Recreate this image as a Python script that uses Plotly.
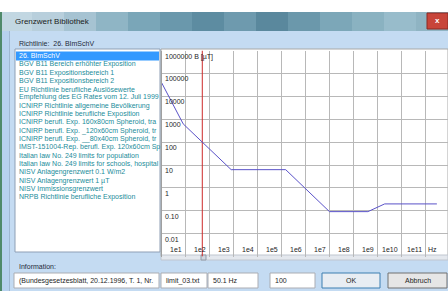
import plotly.graph_objects as go
import math

# ---------------- data ----------------
freq_hz = [1, 8, 25, 800, 150000, 10000000, 400000000, 2000000000, 300000000000]
b_ut = [40000, 625, 200, 6.25, 6.25, 0.092, 0.092, 0.2, 0.2]
marker_freq = [50.1, 50.1]
marker_b = [0.001, 1000000]

x_tick_vals = [1e1, 1e2, 1e3, 1e4, 1e5, 1e6, 1e7, 1e8, 1e9, 1e10, 1e11]
x_tick_text = ["1e1", "1e2", "1e3", "1e4", "1e5", "1e6", "1e7", "1e8", "1e9", "1e10", "1e11"]
y_tick_vals = [1e6, 1e5, 1e4, 1e3, 1e2, 1e1, 1e0, 1e-1, 1e-2]
y_tick_text = ["1000000 B [µT]", "100000", "10000", "1000", "100", "10", "1", "0.10", "0.01"]

list_items = [
    "26. BImSchV",
    "BGV B11 Bereich erhöhter Exposition",
    "BGV B11 Expositionsbereich 1",
    "BGV B11 Expositionsbereich 2",
    "EU Richtlinie berufliche Auslösewerte",
    "Empfehlung des EG Rates vom 12. Juli 1999",
    "ICNIRP Richtlinie allgemeine Bevölkerung",
    "ICNIRP Richtlinie berufliche Exposition",
    "ICNIRP berufl. Exp. 160x80cm Spheroid, tra",
    "ICNIRP berufl. Exp. _120x60cm Spheroid, tr",
    "ICNIRP berufl. Exp. __80x40cm Spheroid, tr",
    "IMST-151004-Rep. berufl. Exp. 120x60cm Sp",
    "Italian law No. 249 limits for population",
    "Italian law No. 249 limits for schools, hospital",
    "NISV Anlagengrenzwert 0.1 W/m2",
    "NISV Anlagengrenzwert 1 µT",
    "NISV Immissionsgrenzwert",
    "NRPB Richtlinie berufliche Exposition",
]
info_fields = ["(Bundesgesetzesblatt, 20.12.1996, T. 1, Nr.", "limit_03.txt", "50.1 Hz", "100"]

W, H = 448, 291
FONT = "Liberation Sans"


def px(x):
    return x / W


def py(y):
    return 1 - y / H


shapes = []
annos = []


def rect(x0, y0, x1, y1, fill, line=None, lw=1):
    shapes.append(dict(type="rect", xref="paper", yref="paper",
                       x0=px(x0), x1=px(x1), y0=py(y1), y1=py(y0),
                       fillcolor=fill, line=dict(color=line or fill, width=lw if line else 0),
                       layer="below"))


def text(x, y, s, size=7, color="#1e1e1e", anchor="left"):
    annos.append(dict(xref="paper", yref="paper", x=px(x), y=py(y), text=s,
                      showarrow=False, xanchor=anchor, yanchor="middle",
                      font=dict(family=FONT, size=size, color=color)))


# ---------- window chrome ----------
rect(0, 0, 448, 12, "#ffffff")
rect(0, 12, 448, 291, "#c4dbf2")
# title bar gradient
tb_cols = ["#c2d7e2", "#b8cfdc", "#a6c3d2", "#8fb5c5", "#7aa6b8", "#6a98ac", "#5d8ca1",
           "#6e9aae", "#5a889d", "#6b98ab", "#7ca7b8", "#8ab2c1", "#98bccb", "#8fb4c3"]
n = len(tb_cols)
for i, c in enumerate(tb_cols):
    rect(i * 448 / n, 12, (i + 1) * 448 / n + 1, 31, c)
rect(0, 12, 2, 291, "#4f8a6a")
rect(2, 31, 9, 291, "#b7d2ee")
rect(9, 31, 10, 291, "#9fb8d2")
text(13, 22, "Grenzwert Bibliothek", size=8, color="#1b1b1b")
# close button
rect(427, 13, 448, 29, "#c8453a", "#8a2a22")
text(437, 21, "<b>x</b>", size=8, color="#ffffff", anchor="center")

text(17, 43, "Richtlinie:  26. BImSchV", size=7, color="#1e2a3a")

# list box
rect(15, 49, 160, 252, "#ffffff", "#8e9fb5")
rect(16, 51.5, 159, 60.5, "#3399ff")
for i, s in enumerate(list_items):
    text(17, 56 + i * 8.3, s, size=7, color="#ffffff" if i == 0 else "#1b8c9a")

# chart frame + scrollbar
rect(161, 49, 448, 256, "#ffffff", "#a8a8a8")
rect(161, 255, 448, 260, "#e4e8ee", "#c0c6cf")
rect(201, 255, 206, 260, "#cfd6df", "#8f9aa8")

text(17, 266, "Information:", size=7, color="#1e2a3a")
# info text boxes
boxes = [(14, 159), (161, 207), (208, 258), (270, 315)]
for (x0, x1), s in zip(boxes, info_fields):
    rect(x0, 273, x1, 288, "#ffffff", "#abadb3")
    text(x0 + 3, 280.5, s, size=7, color="#1e1e1e")
# buttons
rect(322, 273, 380, 288, "#e8edf3", "#3c7fb1")
text(351, 280.5, "OK", size=7, anchor="center")
rect(388, 273, 447, 288, "#e6e6e6", "#707070")
text(417.5, 280.5, "Abbruch", size=7, anchor="center")

# ---------- chart ----------
fig = go.Figure()
fig.add_trace(go.Scatter(x=marker_freq, y=marker_b, mode="lines",
                         line=dict(color="#cc2a2a", width=1), hoverinfo="skip"))
fig.add_trace(go.Scatter(x=freq_hz, y=b_ut, mode="lines",
                         line=dict(color="#5a52c8", width=1), hoverinfo="skip"))

for v, s in zip(x_tick_vals, x_tick_text):
    annos.append(dict(xref="x", yref="paper", x=math.log10(v), y=py(250), text=s,
                      showarrow=False, xanchor="right", yanchor="middle", xshift=-1,
                      font=dict(family=FONT, size=7, color="#1e1e1e")))
annos.append(dict(xref="x", yref="paper", x=11, y=py(250), text="Hz", showarrow=False,
                  xanchor="left", yanchor="middle", xshift=1,
                  font=dict(family=FONT, size=7, color="#1e1e1e")))
for v, s in zip(y_tick_vals, y_tick_text):
    annos.append(dict(xref="paper", yref="y", x=px(163), y=math.log10(v), text=s,
                      showarrow=False, xanchor="left", yanchor="top",
                      font=dict(family=FONT, size=7, color="#1e1e1e")))

fig.update_layout(
    width=W, height=H, margin=dict(l=0, r=0, t=0, b=0),
    paper_bgcolor="#c4dbf2", plot_bgcolor="rgba(0,0,0,0)",
    showlegend=False, shapes=shapes, annotations=annos,
    xaxis=dict(type="log", range=[0, 11.94], domain=[161.5 / W, 1],
               showticklabels=False, ticks="", dtick=1, showgrid=True,
               gridcolor="#b8b8b8", gridwidth=1, zeroline=False, showline=False, fixedrange=True),
    yaxis=dict(type="log", range=[-3, 6], domain=[py(256.6), py(50.5)],
               showticklabels=False, ticks="", dtick=1, showgrid=True,
               gridcolor="#b8b8b8", gridwidth=1, zeroline=False,
               showline=True, linecolor="#a0a0a0", fixedrange=True),
)
fig.write_html("out.html", config={"displayModeBar": False},
               post_script="document.body.style.margin='0';document.body.style.overflow='hidden';")
